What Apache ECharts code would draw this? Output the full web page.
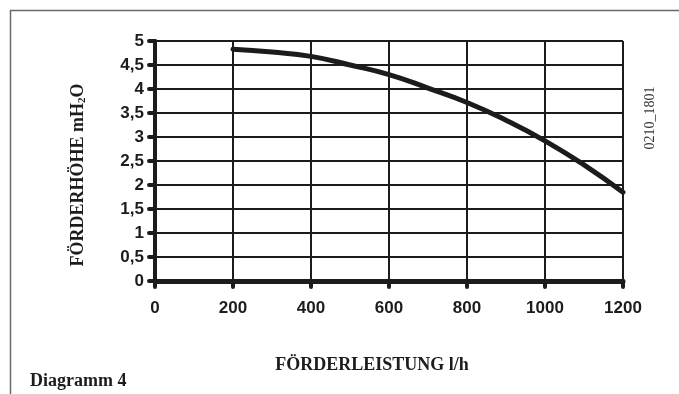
<!DOCTYPE html>
<html>
<head>
<meta charset="utf-8">
<script src="https://cdn.jsdelivr.net/npm/echarts@6/dist/echarts.min.js"></script>
<style>
  html, body { margin: 0; padding: 0; background: #fff; }
  #chart { width: 679px; height: 394px; }
</style>
</head>
<body>
<div id="chart"></div>
<script>
// Förderleistung (l/h) und Förderhöhe (m H2O)
var flow = [200, 300, 400, 500, 600, 700, 800, 900, 1000, 1100, 1200];
var head = [4.83, 4.77, 4.68, 4.5, 4.3, 4.02, 3.72, 3.35, 2.92, 2.42, 1.85];
var yTickLabels = ["0", "0,5", "1", "1,5", "2", "2,5", "3", "3,5", "4", "4,5", "5"];
var xTickLabels = ["0", "200", "400", "600", "800", "1000", "1200"];

var ink = "#1c1c1c";
var chart = echarts.init(document.getElementById("chart"));

var points = flow.map(function (f, i) {
  return [f, head[i]];
});

var option = {
  backgroundColor: "#fff",
  animation: false,
  grid: { left: 155, right: 56, top: 41, bottom: 113 },
  xAxis: {
    type: "value",
    min: 0,
    max: 1200,
    interval: 200,
    axisLine: { show: true, lineStyle: { color: ink, width: 5, cap: "round" } },
    axisTick: { show: true, length: 6, lineStyle: { color: ink, width: 4, cap: "round" } },
    axisLabel: {
      margin: 19,
      color: ink,
      fontFamily: "Liberation Sans",
      fontWeight: "bold",
      fontSize: 17,
      formatter: function (v, i) { return xTickLabels[i]; }
    },
    splitLine: { show: true, lineStyle: { color: ink, width: 2 } }
  },
  yAxis: {
    type: "value",
    min: 0,
    max: 5,
    interval: 0.5,
    axisLine: { show: true, lineStyle: { color: ink, width: 4, cap: "round" } },
    axisTick: { show: true, length: 6, lineStyle: { color: ink, width: 4, cap: "round" } },
    axisLabel: {
      margin: 11,
      color: ink,
      fontFamily: "Liberation Sans",
      fontWeight: "bold",
      fontSize: 17,
      formatter: function (v, i) { return yTickLabels[i]; }
    },
    splitLine: { show: true, lineStyle: { color: ink, width: 2 } }
  },
  series: [
    {
      type: "line",
      data: points,
      smooth: true,
      showSymbol: false,
      lineStyle: { color: ink, width: 5, cap: "round" }
    }
  ],
  graphic: [
    {
      type: "rect",
      shape: { x: 10.5, y: 10.5, width: 720, height: 420 },
      style: { fill: null, stroke: "#6a6a6a", lineWidth: 1.5 },
      silent: true
    },
    {
      type: "text",
      x: 78,
      y: 175,
      rotation: Math.PI / 2,
      style: {
        text: "FÖRDERHÖHE mH{s|2}O",
        font: "bold 18px 'Liberation Serif'",
        fill: ink,
        align: "center",
        verticalAlign: "middle",
        rich: {
          s: { fontSize: 11, fontWeight: "bold", fontFamily: "Liberation Serif", verticalAlign: "bottom", padding: [8, 0, 0, 0] }
        }
      }
    },
    {
      type: "text",
      x: 372,
      y: 365,
      style: {
        text: "FÖRDERLEISTUNG l/h",
        font: "bold 18px 'Liberation Serif'",
        fill: ink,
        align: "center",
        verticalAlign: "middle"
      }
    },
    {
      type: "text",
      x: 30,
      y: 381,
      style: {
        text: "Diagramm 4",
        font: "bold 18px 'Liberation Serif'",
        fill: ink,
        align: "left",
        verticalAlign: "middle"
      }
    },
    {
      type: "text",
      x: 650,
      y: 118,
      rotation: Math.PI / 2,
      style: {
        text: "0210_1801",
        font: "14px 'Liberation Serif'",
        fill: "#333",
        align: "center",
        verticalAlign: "middle"
      }
    }
  ]
};

chart.setOption(option);
</script>
</body>
</html>
